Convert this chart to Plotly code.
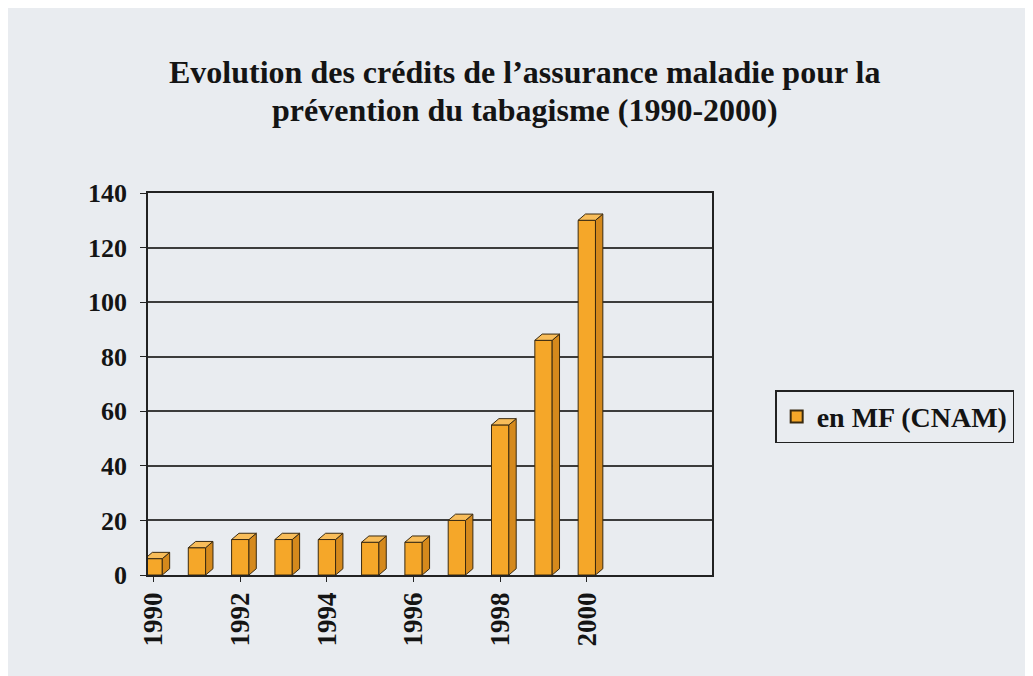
import plotly.graph_objects as go

years = [1990, 1991, 1992, 1993, 1994, 1995, 1996, 1997, 1998, 1999, 2000]
credits_mf = [6, 10, 13, 13, 13, 12, 12, 20, 55, 86, 130]
tick_years = [1990, 1992, 1994, 1996, 1998, 2000]
series_name = "en MF (CNAM)"
title_lines = ["Evolution des crédits de l’assurance maladie pour la",
               "prévention du tabagisme (1990-2000)"]

BG = "#e9ecf0"
FACE = "#f5a729"
SIDE = "#d5891c"
TOP = "#f8bd5a"
EDGE = "#3a2a10"
FONT = "Liberation Serif"
INK = "#141414"

bar_w = 0.4
dx = 0.17   # depth offset in years
dy = 2.3    # depth offset in value units

fig = go.Figure()
fig.add_trace(go.Bar(
    x=years, y=credits_mf, name=series_name, width=bar_w,
    marker=dict(color=FACE, line=dict(color=EDGE, width=1)),
))

shapes = []
for x, v in zip(years, credits_mf):
    x0, x1 = x - bar_w / 2, x + bar_w / 2
    shapes.append(dict(
        type="path", xref="x", yref="y", layer="above",
        path=f"M {x1},0 L {x1 + dx},{dy} L {x1 + dx},{v + dy} L {x1},{v} Z",
        fillcolor=SIDE, line=dict(color=EDGE, width=1),
    ))
    shapes.append(dict(
        type="path", xref="x", yref="y", layer="above",
        path=f"M {x0},{v} L {x0 + dx},{v + dy} L {x1 + dx},{v + dy} L {x1},{v} Z",
        fillcolor=TOP, line=dict(color=EDGE, width=1),
    ))

annotations = []
for text, yp in zip(title_lines, [1.316, 1.218]):
    annotations.append(dict(
        text=text, xref="paper", yref="paper", x=0.668, y=yp,
        xanchor="center", yanchor="middle", showarrow=False,
        font=dict(family=FONT, size=32, color=INK, weight="bold"),
    ))

fig.update_layout(
    width=1025, height=668,
    paper_bgcolor=BG, plot_bgcolor=BG,
    margin=dict(l=140, r=321, t=185, b=101),
    font=dict(family=FONT, color=INK),
    showlegend=True,
    legend=dict(
        x=1.112, xanchor="left", y=0.414, yanchor="middle",
        bgcolor=BG, bordercolor="#222222", borderwidth=1.5,
        font=dict(family=FONT, size=28, color=INK, weight="bold"),
        itemsizing="constant",
    ),
    shapes=shapes,
    annotations=annotations,
)

fig.update_xaxes(
    range=[1989.87, 2002.89],
    tickmode="array", tickvals=tick_years, ticktext=[str(t) for t in tick_years],
    tickangle=-90,
    tickfont=dict(family=FONT, size=27, color=INK, weight="bold"),
    showgrid=False, zeroline=False,
    showline=True, linecolor="#222222", linewidth=1.5, mirror=True,
    ticks="outside", ticklen=5, tickcolor="#222222",
)
fig.update_yaxes(
    range=[0, 140], tickmode="linear", tick0=0, dtick=20,
    tickfont=dict(family=FONT, size=26, color=INK, weight="bold"),
    ticklabelstandoff=8,
    showgrid=True, gridcolor="#3c3c3c", gridwidth=1.5,
    zeroline=False,
    showline=True, linecolor="#222222", linewidth=1.5, mirror=True,
    ticks="outside", ticklen=6, tickcolor="#222222",
)

fig.write_html("out.html")
